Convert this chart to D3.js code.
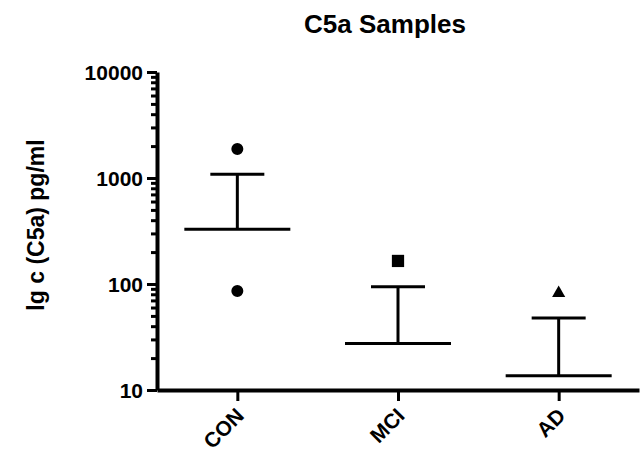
<!DOCTYPE html>
<html>
<head>
<meta charset="utf-8">
<script src="https://cdn.jsdelivr.net/npm/d3@7"></script>
<style>
  body { margin: 0; background: #fff; }
  text { font-family: "Liberation Sans", Arial, sans-serif; font-weight: bold; fill: #000; }
</style>
</head>
<body>
<div id="chart"></div>
<script>
// data
var categories = ['CON', 'MCI', 'AD'];
var conPoints = [1880, 86];
var mciPoints = [165];
var adPoints = [82];
var means = [328, 27.4, 13.6];
var errTop = [1084, 94.4, 47.7];
var yTicks = [10, 100, 1000, 10000];

var width = 644, height = 453;
var margin = { top: 72, right: 5, bottom: 63, left: 157 };

var svg = d3.select('#chart').append('svg')
  .attr('width', width)
  .attr('height', height);

// scales
var yScale = d3.scaleLog()
  .domain([10, 10000])
  .range([height - margin.bottom, margin.top]);

var xScale = d3.scalePoint()
  .domain(categories)
  .range([margin.left, width - margin.right])
  .padding(0.5);

// minor ticks on log axis
var minorTicks = [];
yTicks.slice(0, -1).forEach(function(d) {
  for (var k = 2; k < 10; k++) minorTicks.push(d * k);
});

var yMinor = svg.append('g')
  .attr('transform', 'translate(' + margin.left + ',0)')
  .call(d3.axisLeft(yScale).tickValues(minorTicks).tickSize(6).tickFormat(''));
yMinor.select('.domain').remove();
yMinor.selectAll('line').attr('stroke', '#000').attr('stroke-width', 3);

var yAxis = svg.append('g')
  .attr('transform', 'translate(' + margin.left + ',0)')
  .call(d3.axisLeft(yScale).tickValues(yTicks).tickSize(10).tickSizeOuter(0)
    .tickPadding(4).tickFormat(d3.format('d')));
yAxis.select('.domain').attr('stroke', '#000').attr('stroke-width', 4);
yAxis.selectAll('line').attr('stroke', '#000').attr('stroke-width', 3);
yAxis.selectAll('text').style('font-size', '21px').attr('dy', '0.36em');

var xAxis = svg.append('g')
  .attr('transform', 'translate(0,' + yScale(10) + ')')
  .call(d3.axisBottom(xScale).tickSize(11).tickSizeOuter(0).tickFormat(''));
xAxis.select('.domain').attr('stroke', '#000').attr('stroke-width', 4);
xAxis.selectAll('line').attr('stroke', '#000').attr('stroke-width', 3);

// rotated category labels
svg.selectAll('.xlab')
  .data(categories)
  .enter()
  .append('text')
  .attr('class', 'xlab')
  .attr('text-anchor', 'end')
  .style('font-size', '21px')
  .attr('transform', function(d) {
    return 'translate(' + (xScale(d) + 8) + ',' + (yScale(10) + 27) + ') rotate(-45)';
  })
  .text(function(d) { return d; });

// mean lines and upper error bars
var lines = svg.append('g').attr('stroke', '#000').attr('stroke-width', 3);
categories.forEach(function(c, i) {
  var cx = xScale(c);
  lines.append('line')
    .attr('x1', cx - 53).attr('x2', cx + 53)
    .attr('y1', yScale(means[i])).attr('y2', yScale(means[i]));
  lines.append('line')
    .attr('x1', cx).attr('x2', cx)
    .attr('y1', yScale(means[i])).attr('y2', yScale(errTop[i]));
  lines.append('line')
    .attr('x1', cx - 27).attr('x2', cx + 27)
    .attr('y1', yScale(errTop[i])).attr('y2', yScale(errTop[i]));
});

// points
var groups = [
  { cat: 'CON', values: conPoints, shape: d3.symbolCircle, size: 113 },
  { cat: 'MCI', values: mciPoints, shape: d3.symbolSquare, size: 150 },
  { cat: 'AD', values: adPoints, shape: d3.symbolTriangle, size: 75 }
];
groups.forEach(function(g) {
  svg.selectAll(null)
    .data(g.values)
    .enter()
    .append('path')
    .attr('d', d3.symbol().type(g.shape).size(g.size))
    .attr('fill', '#000')
    .attr('transform', function(d) {
      return 'translate(' + xScale(g.cat) + ',' + yScale(d) + ')';
    });
});

// title and axis label
svg.append('text')
  .attr('x', 385).attr('y', 33)
  .attr('text-anchor', 'middle')
  .style('font-size', '26px')
  .text('C5a Samples');

svg.append('text')
  .attr('text-anchor', 'middle')
  .style('font-size', '23px')
  .attr('transform', 'translate(44,225) rotate(-90)')
  .text('lg c (C5a) pg/ml');
</script>
</body>
</html>
